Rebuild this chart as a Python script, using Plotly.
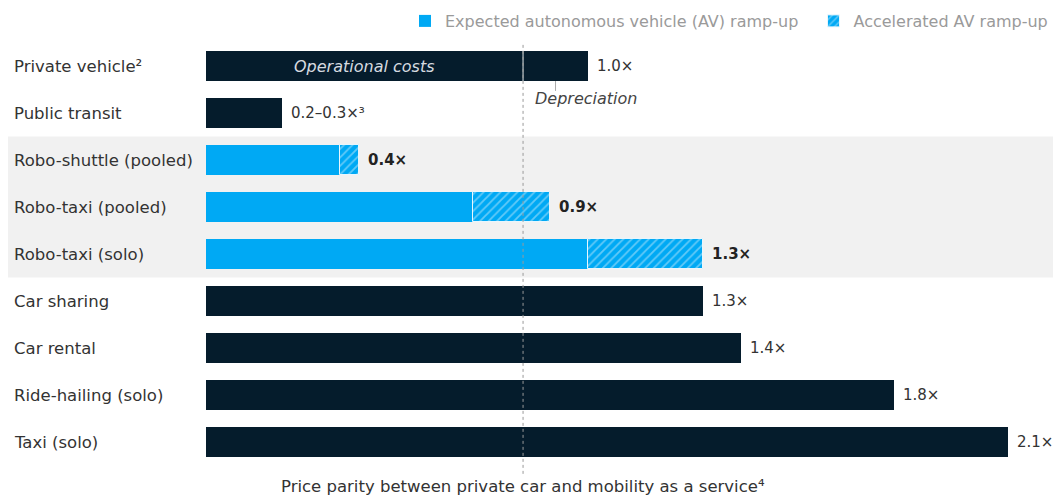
import plotly.graph_objects as go

categories = ["Private vehicle²", "Public transit", "Robo-shuttle (pooled)", "Robo-taxi (pooled)",
              "Robo-taxi (solo)", "Car sharing", "Car rental", "Ride-hailing (solo)", "Taxi (solo)"]
value_labels = ["1.0×", "0.2–0.3×³", "0.4×", "0.9×", "1.3×", "1.3×", "1.4×", "1.8×", "2.1×"]

# conventional modes (dark bars)
conv_rows = [1, 5, 6, 7, 8]
conv_values = [0.2, 1.3, 1.4, 1.8, 2.1]
# private vehicle split
private_operational = 0.83
private_depreciation = 0.17
# autonomous modes
av_rows = [2, 3, 4]
av_expected = [0.35, 0.7, 1.0]
av_accelerated_total = [0.4, 0.9, 1.3]

NAVY = "#051C2C"
BLUE = "#00A9F4"
FONT = "DejaVu Sans"

n = len(categories)
totals = [private_operational + private_depreciation] + [0] * (n - 1)
for r, v in zip(conv_rows, conv_values):
    totals[r] = v
for r, v in zip(av_rows, av_accelerated_total):
    totals[r] = v

fig = go.Figure()
bw = 0.64

fig.add_trace(go.Bar(y=[0], x=[private_operational], orientation="h", width=bw,
                     marker=dict(color=NAVY, line=dict(width=0)), showlegend=False, hoverinfo="skip"))
fig.add_trace(go.Bar(y=[0], x=[private_depreciation], base=[private_operational], orientation="h", width=bw,
                     marker=dict(color=NAVY, line=dict(width=0)), showlegend=False, hoverinfo="skip"))
fig.add_trace(go.Bar(y=conv_rows, x=conv_values, orientation="h", width=bw,
                     marker=dict(color=NAVY, line=dict(width=0)), showlegend=False, hoverinfo="skip"))
fig.add_trace(go.Bar(y=av_rows, x=av_expected, orientation="h", width=bw,
                     name="Expected autonomous vehicle (AV) ramp-up\u00a0\u00a0",
                     marker=dict(color=BLUE, line=dict(width=0))))
fig.add_trace(go.Bar(y=av_rows, x=[t - e for t, e in zip(av_accelerated_total, av_expected)],
                     base=av_expected, orientation="h", width=bw,
                     name="Accelerated AV ramp-up",
                     marker=dict(color=BLUE, line=dict(width=1, color="#e8f6fd"),
                                 pattern=dict(shape="/", fgcolor="#c4eafb", size=6, solidity=0.3,
                                              fillmode="overlay"))))

ymin, ymax = -0.979, 9.021
def py(row):
    return (ymax - row) / (ymax - ymin)

plot_left, plot_width = 206, 847

# gray band behind AV rows
fig.add_shape(type="rect", xref="paper", yref="paper",
              x0=(8 - plot_left) / plot_width, x1=1.0,
              y0=py(av_rows[-1] + 0.5), y1=py(av_rows[0] - 0.5),
              fillcolor="#f1f1f1", line=dict(width=0), layer="below")

# separator inside private vehicle bar
fig.add_shape(type="line", xref="x", yref="y", x0=private_operational, x1=private_operational,
              y0=-bw / 2, y1=bw / 2, line=dict(color="#9aa5ad", width=1.5))
# parity dotted line
fig.add_shape(type="line", xref="x", yref="y", x0=private_operational, x1=private_operational,
              y0=-0.45, y1=n - 1 + 0.70, line=dict(color="#9a9a9a", width=1, dash="dot"), layer="above")
# depreciation tick
dep_mid = private_operational + private_depreciation / 2
fig.add_shape(type="line", xref="x", yref="y", x0=dep_mid, x1=dep_mid,
              y0=bw / 2, y1=0.53, line=dict(color="#aaaaaa", width=1))

annotations = []
for i, c in enumerate(categories):
    annotations.append(dict(x=(12 - plot_left) / plot_width, xref="paper", y=i, yref="y",
                            text=c, showarrow=False, xanchor="left", yanchor="middle",
                            font=dict(family=FONT, size=16.5, color="#333333")))
for i, lab in enumerate(value_labels):
    bold = i in av_rows
    annotations.append(dict(x=totals[i], xref="x", y=i, yref="y", xshift=7,
                            text=f"<b>{lab}</b>" if bold else lab, showarrow=False,
                            xanchor="left", yanchor="middle",
                            font=dict(family=FONT, size=15, color="#222222" if bold else "#333333")))
annotations.append(dict(x=private_operational / 2, xref="x", y=0, yref="y", text="<i>Operational costs</i>",
                        showarrow=False, xanchor="center", yanchor="middle",
                        font=dict(family=FONT, size=16, color="#d6dbe0")))
annotations.append(dict(x=dep_mid, xref="x", y=0.70, yref="y", xshift=30, text="<i>Depreciation</i>",
                        showarrow=False, xanchor="center", yanchor="middle",
                        font=dict(family=FONT, size=16, color="#444444")))
annotations.append(dict(x=private_operational, xref="x", y=n - 1 + 0.94, yref="y",
                        text="Price parity between private car and mobility as a service⁴",
                        showarrow=False, xanchor="center", yanchor="middle",
                        font=dict(family=FONT, size=16.5, color="#333333")))

fig.update_layout(
    width=1053, height=500,
    margin=dict(l=plot_left, r=0, t=20, b=10, autoexpand=False),
    paper_bgcolor="white", plot_bgcolor="rgba(0,0,0,0)",
    barmode="overlay", bargap=0,
    xaxis=dict(range=[0, plot_width / 382], visible=False, fixedrange=True),
    yaxis=dict(range=[ymax, ymin], visible=False, fixedrange=True),
    showlegend=True,
    legend=dict(orientation="h", x=1.0, xanchor="right",
                y=1 + 16 / 470, yanchor="top",
                font=dict(family=FONT, size=16, color="#9a9a9a"), bgcolor="rgba(0,0,0,0)",
                itemwidth=30, traceorder="normal"),
    annotations=annotations,
)

fig.write_html("out.html", post_script="document.body.style.margin='0px';",
               config={"displayModeBar": False})
